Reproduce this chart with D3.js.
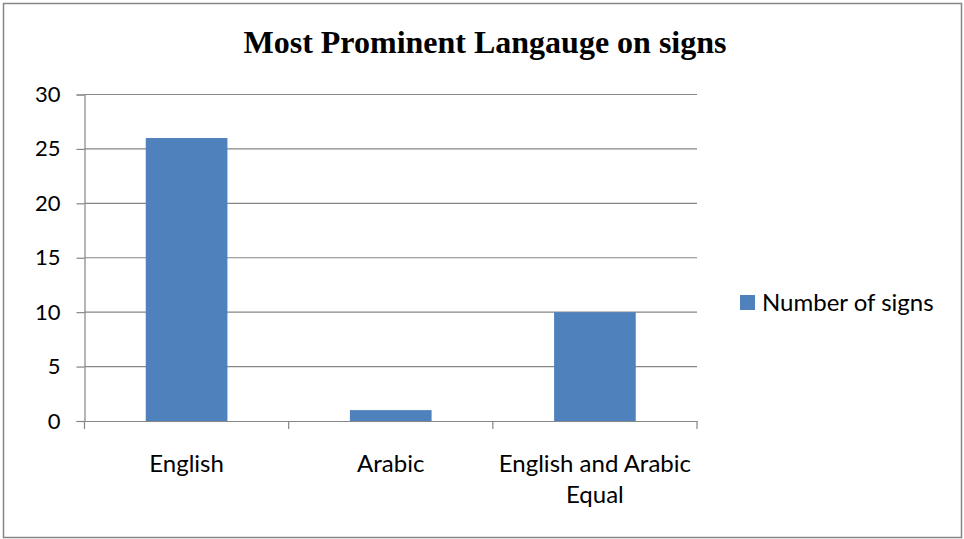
<!DOCTYPE html>
<html><head><meta charset="utf-8">
<script src="https://cdn.jsdelivr.net/npm/d3@7"></script>
<style>body{margin:0;background:#fff}svg{display:block}</style>
</head><body>
<script>
const categories = ["English", "Arabic", "English and Arabic Equal"];
const categoryLines = [["English"], ["Arabic"], ["English and Arabic", "Equal"]];
const values = [26, 1, 10];
const seriesName = "Number of signs";
const yTicks = [0, 5, 10, 15, 20, 25, 30];
const title = "Most Prominent Langauge on signs";

(function () {
const W = 964, H = 539;
const svg = d3.select("body").append("svg").attr("width", W).attr("height", H);
svg.append("rect").attr("x", 3.5).attr("y", 3.5).attr("width", W - 6).attr("height", H - 5)
  .attr("fill", "#fff").attr("stroke", "#868686").attr("stroke-width", 1.5);

const pLeft = 84.5, pRight = 697, pTop = 94.5, pBottom = 421;
const x = d3.scaleBand().domain(categories).range([pLeft, pRight]).paddingInner(0.6).paddingOuter(0.3);
const xb = d3.scaleBand().domain(categories).range([pLeft, pRight]);
const y = d3.scaleLinear().domain([0, 30]).range([pBottom, pTop]);

svg.append("text").attr("x", 485).attr("y", 53).attr("text-anchor", "middle")
  .attr("font-family", "Liberation Serif").attr("font-weight", "bold").attr("font-size", 32)
  .text(title);

// gridlines
svg.append("g").selectAll("line").data(yTicks.filter(d => d > 0)).join("line")
  .attr("x1", pLeft).attr("x2", pRight).attr("y1", d => y(d)).attr("y2", d => y(d))
  .attr("stroke", "#868686").attr("stroke-width", 1.2);

// bars
svg.append("g").selectAll("rect").data(values).join("rect")
  .attr("x", (d, i) => x(categories[i])).attr("width", x.bandwidth())
  .attr("y", d => y(d)).attr("height", d => y(0) - y(d)).attr("fill", "#4F81BD");

// y axis
const ya = svg.append("g").attr("transform", `translate(${pLeft},0)`)
  .call(d3.axisLeft(y).tickValues(yTicks).tickSize(8).tickPadding(16));
ya.select(".domain").attr("stroke", "#868686").attr("stroke-width", 1.2);
ya.selectAll(".tick line").attr("stroke", "#868686").attr("stroke-width", 1.2);
ya.selectAll(".tick text").attr("font-family", "Lato").attr("font-size", 22).attr("fill", "#000");

// x axis
const xa = svg.append("g").attr("transform", `translate(0,${pBottom})`)
  .call(d3.axisBottom(xb).tickSize(0).tickFormat(""));
xa.select(".domain").attr("stroke", "#868686").attr("stroke-width", 1.2);
xa.selectAll(".tick").remove();
const bounds = categories.map(c => xb(c)).concat([pRight]);
xa.selectAll("line.tk").data(bounds).join("line").attr("class", "tk")
  .attr("x1", d => d).attr("x2", d => d).attr("y1", 0).attr("y2", 8)
  .attr("stroke", "#868686").attr("stroke-width", 1.2);

const lab = svg.append("g").selectAll("text").data(categories).join("text")
  .attr("x", d => xb(d) + xb.bandwidth() / 2).attr("y", 472)
  .attr("text-anchor", "middle").attr("font-family", "Lato").attr("font-size", 24).attr("fill", "#000");
lab.each(function(d, i) {
  d3.select(this).selectAll("tspan").data(categoryLines[i]).join("tspan")
    .attr("x", xb(d) + xb.bandwidth() / 2).attr("dy", (t, j) => j === 0 ? 0 : 31).text(t => t);
});

// legend
const lg = svg.append("g");
lg.append("rect").attr("x", 740).attr("y", 295).attr("width", 15).attr("height", 15).attr("fill", "#4F81BD");
lg.append("text").attr("x", 762).attr("y", 311).attr("font-family", "Lato").attr("font-size", 24)
  .attr("fill", "#000").text(seriesName);
})();
</script>
</body></html>
